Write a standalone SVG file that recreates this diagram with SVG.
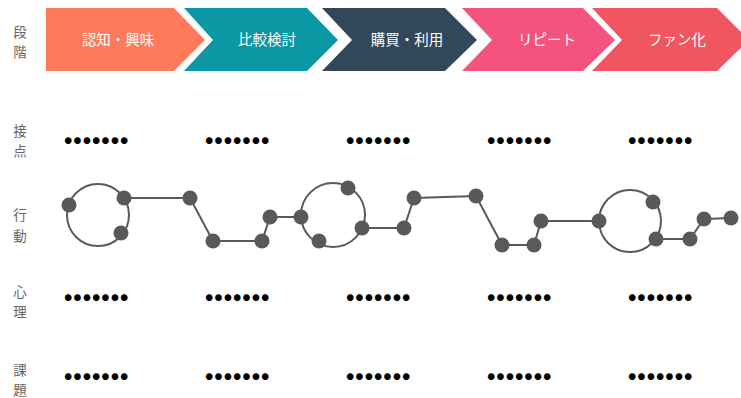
<svg xmlns="http://www.w3.org/2000/svg" width="741" height="398" viewBox="0 0 741 398">
<style>
.stg{font-family:"Noto Sans CJK JP","Noto Sans",sans-serif;font-size:14.5px;fill:#fff;text-anchor:middle}
.lbl{font-family:"Noto Sans CJK JP","Noto Sans",sans-serif;font-size:13.5px;fill:#666;text-anchor:middle}
.dots{font-family:"Noto Sans CJK JP",sans-serif;font-size:7.4px;letter-spacing:1.95px;fill:#000}
.ln{fill:none;stroke:#595959;stroke-width:2}
.nd{fill:#595959}
</style>
<rect width="741" height="398" fill="#fff"/>
<g id="stage1"><polygon points="46,8 174,8 205,40 174,71 46,71" fill="#FE7A5B"/><text class="stg" x="118" y="45">認知・興味</text></g>
<g id="stage2"><polygon points="184,8 307,8 338,40 307,71 184,71 213,40" fill="#0C97A5"/><text class="stg" x="267" y="45">比較検討</text></g>
<g id="stage3"><polygon points="322,8 445,8 477,40 445,71 322,71 352,40" fill="#33475B"/><text class="stg" x="407" y="45">購買・利用</text></g>
<g id="stage4"><polygon points="462,8 583,8 615,40 583,71 462,71 492,40" fill="#F3537D"/><text class="stg" x="547" y="45">リピート</text></g>
<g id="stage5"><polygon points="592,8 717,8 749,40 717,71 592,71 622,40" fill="#F05560"/><text class="stg" x="677" y="45">ファン化</text></g>
<g id="label-stage"><text class="lbl" x="20" y="37">段</text><text class="lbl" x="20" y="57">階</text></g>
<g id="label-touch"><text class="lbl" x="20" y="136">接</text><text class="lbl" x="20" y="156">点</text></g>
<g id="label-action"><text class="lbl" x="20" y="220">行</text><text class="lbl" x="20" y="241">動</text></g>
<g id="label-mind"><text class="lbl" x="20" y="297">心</text><text class="lbl" x="20" y="317">理</text></g>
<g id="label-issue"><text class="lbl" x="20" y="375">課</text><text class="lbl" x="20" y="395">題</text></g>
<g id="row-touch"><text class="dots" x="64.5" y="142.8">●●●●●●●</text><text class="dots" x="205.5" y="142.8">●●●●●●●</text><text class="dots" x="346.5" y="142.8">●●●●●●●</text><text class="dots" x="487.5" y="142.8">●●●●●●●</text><text class="dots" x="628.5" y="142.8">●●●●●●●</text></g>
<g id="row-mind"><text class="dots" x="64.5" y="299.8">●●●●●●●</text><text class="dots" x="205.5" y="299.8">●●●●●●●</text><text class="dots" x="346.5" y="299.8">●●●●●●●</text><text class="dots" x="487.5" y="299.8">●●●●●●●</text><text class="dots" x="628.5" y="299.8">●●●●●●●</text></g>
<g id="row-issue"><text class="dots" x="64.5" y="378.8">●●●●●●●</text><text class="dots" x="205.5" y="378.8">●●●●●●●</text><text class="dots" x="346.5" y="378.8">●●●●●●●</text><text class="dots" x="487.5" y="378.8">●●●●●●●</text><text class="dots" x="628.5" y="378.8">●●●●●●●</text></g>
<g id="connectors">
<circle class="ln" cx="98" cy="215" r="31"/>
<circle class="ln" cx="333" cy="215" r="32"/>
<circle class="ln" cx="630" cy="221" r="31"/>
<polyline class="ln" points="124,198 190,198 213,241 262,241 270,217 301,217"/>
<polyline class="ln" points="362,228 404,228 414,198 476,196 502,245 534,245 541,221 599,221"/>
<polyline class="ln" points="656,239 690,239 704,219 731,218"/>
</g>
<g id="n1"><circle class="nd" cx="69" cy="205" r="7.5"/></g>
<g id="n2"><circle class="nd" cx="124" cy="198" r="7.5"/></g>
<g id="n3"><circle class="nd" cx="121" cy="233" r="7.5"/></g>
<g id="n4"><circle class="nd" cx="190" cy="198" r="7.5"/></g>
<g id="n5"><circle class="nd" cx="213" cy="241" r="7.5"/></g>
<g id="n6"><circle class="nd" cx="262" cy="241" r="7.5"/></g>
<g id="n7"><circle class="nd" cx="270" cy="217" r="7.5"/></g>
<g id="n8"><circle class="nd" cx="301" cy="217" r="7.5"/></g>
<g id="n9"><circle class="nd" cx="348" cy="188" r="7.5"/></g>
<g id="n10"><circle class="nd" cx="362" cy="228" r="7.5"/></g>
<g id="n11"><circle class="nd" cx="319" cy="241" r="7.5"/></g>
<g id="n12"><circle class="nd" cx="404" cy="228" r="7.5"/></g>
<g id="n13"><circle class="nd" cx="414" cy="198" r="7.5"/></g>
<g id="n14"><circle class="nd" cx="476" cy="196" r="7.5"/></g>
<g id="n15"><circle class="nd" cx="502" cy="245" r="7.5"/></g>
<g id="n16"><circle class="nd" cx="534" cy="245" r="7.5"/></g>
<g id="n17"><circle class="nd" cx="541" cy="221" r="7.5"/></g>
<g id="n18"><circle class="nd" cx="599" cy="221" r="7.5"/></g>
<g id="n19"><circle class="nd" cx="653" cy="202" r="7.5"/></g>
<g id="n20"><circle class="nd" cx="656" cy="239" r="7.5"/></g>
<g id="n21"><circle class="nd" cx="690" cy="239" r="7.5"/></g>
<g id="n22"><circle class="nd" cx="704" cy="219" r="7.5"/></g>
<g id="n23"><circle class="nd" cx="731" cy="218" r="7.5"/></g>
</svg>
